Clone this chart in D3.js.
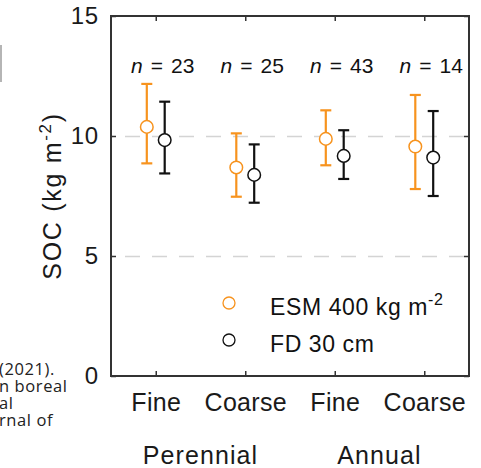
<!DOCTYPE html>
<html>
<head>
<meta charset="utf-8">
<script src="https://cdn.jsdelivr.net/npm/d3@7/dist/d3.min.js"></script>
<style>
  body { margin: 0; background: #fff; }
  svg { display: block; }
  .note { font-family: "Open Sans", sans-serif; font-size: 16.5px; letter-spacing: 0.6px; fill: #222; }
</style>
</head>
<body>
<div id="chart"></div>
<script>
// values
var categories = ['Fine', 'Coarse', 'Fine', 'Coarse'];
var groups = ['Perennial', 'Annual'];
var nCounts = [23, 25, 43, 14];
var esmMean = [10.38, 8.69, 9.88, 9.56];
var esmLow  = [8.86, 7.47, 8.78, 7.79];
var esmHigh = [12.17, 10.11, 11.07, 11.71];
var fdMean = [9.83, 8.38, 9.17, 9.10];
var fdLow  = [8.44, 7.22, 8.21, 7.50];
var fdHigh = [11.43, 9.65, 10.24, 11.04];
var yTicks = [0, 5, 10, 15];
var gridTicks = [5, 10];

var W = 481, H = 468;
var pLeft = 111, pRight = 469, pTop = 16, pBottom = 376;
var orange = '#f7931e', dark = '#111';
var font = '"Liberation Sans", Arial, sans-serif';

var svg = d3.select('#chart').append('svg')
  .attr('width', W).attr('height', H);

var x = d3.scaleLinear().domain([0.5, 4.5]).range([pLeft, pRight]);
var y = d3.scaleLinear().domain([0, 15]).range([pBottom, pTop]);

// clipped caption fragments at the left edge
var notes = [['(2021).', 375], ['n boreal', 392], ['al', 409], ['rnal of', 426]];
svg.selectAll('text.note').data(notes).enter().append('text')
  .attr('class', 'note')
  .attr('x', -1).attr('y', function(d) { return d[1]; })
  .text(function(d) { return d[0]; });
svg.append('rect').attr('x', 0).attr('y', 45).attr('width', 2).attr('height', 37)
  .attr('fill', '#b5b5b5');

// grid
svg.append('g')
  .attr('transform', 'translate(' + pLeft + ',0)')
  .call(d3.axisLeft(y).tickValues(gridTicks).tickSize(-(pRight - pLeft)).tickFormat(''))
  .call(function(g) {
    g.select('.domain').remove();
    g.selectAll('line').attr('stroke', '#d4d4d4').attr('stroke-width', 1.5)
      .attr('stroke-dasharray', '15,12').attr('stroke-dashoffset', 13);
  });

// axes with inward ticks on every side
function styleAxis(g) {
  g.select('.domain').remove();
  g.selectAll('line').attr('stroke', '#333').attr('stroke-width', 1.5);
  g.selectAll('text').attr('font-family', font).attr('fill', '#1a1a1a');
}
var xTicks = d3.range(1, categories.length + 1);

svg.append('g')
  .attr('transform', 'translate(' + pLeft + ',0)')
  .call(d3.axisLeft(y).tickValues(yTicks).tickSize(-5).tickPadding(12))
  .call(styleAxis)
  .call(function(g) { g.selectAll('text').attr('font-size', 24).attr('letter-spacing', 0.8); });

svg.append('g')
  .attr('transform', 'translate(' + pRight + ',0)')
  .call(d3.axisRight(y).tickValues(yTicks).tickSize(-5).tickFormat(''))
  .call(styleAxis);

svg.append('g')
  .attr('transform', 'translate(0,' + pBottom + ')')
  .call(d3.axisBottom(x).tickValues(xTicks).tickSize(-5).tickPadding(17)
    .tickFormat(function(d) { return categories[d - 1]; }))
  .call(styleAxis)
  .call(function(g) { g.selectAll('text').attr('font-size', 25).attr('letter-spacing', 0.3); });

svg.append('g')
  .attr('transform', 'translate(0,' + pTop + ')')
  .call(d3.axisTop(x).tickValues(xTicks).tickSize(-5).tickFormat(''))
  .call(styleAxis);

svg.append('rect')
  .attr('x', pLeft).attr('y', pTop)
  .attr('width', pRight - pLeft).attr('height', pBottom - pTop)
  .attr('fill', 'none').attr('stroke', '#333').attr('stroke-width', 2);

// group labels
svg.selectAll('text.group').data(groups).enter().append('text')
  .attr('class', 'group')
  .attr('x', function(d, i) { return x(i * 2 + 1.5); })
  .attr('y', 464)
  .attr('text-anchor', 'middle')
  .attr('font-family', font).attr('font-size', 25).attr('letter-spacing', 1.1)
  .attr('fill', '#1a1a1a')
  .text(function(d) { return d; });

// y label
var yl = svg.append('text')
  .attr('transform', 'translate(61,' + ((pTop + pBottom) / 2) + ') rotate(-90)')
  .attr('text-anchor', 'middle')
  .attr('font-family', font).attr('font-size', 25).attr('letter-spacing', 1.7)
  .attr('fill', '#1a1a1a');
yl.append('tspan').text('SOC (kg m');
yl.append('tspan').attr('font-size', 17).attr('dy', -10).text('-2');
yl.append('tspan').attr('dy', 10).text(')');

// n labels
var nl = svg.selectAll('text.n').data(nCounts).enter().append('text')
  .attr('class', 'n')
  .attr('x', function(d, i) { return x(i + 1) + 7; })
  .attr('y', 73)
  .attr('text-anchor', 'middle')
  .attr('font-family', font).attr('font-size', 21).attr('fill', '#111');
nl.append('tspan').attr('font-style', 'italic').text('n');
nl.append('tspan').attr('dx', 8).text('=');
nl.append('tspan').attr('dx', 8).text(function(d) { return d; });

// error bars
var series = [
  { mean: esmMean, low: esmLow, high: esmHigh, color: orange, off: -0.1 },
  { mean: fdMean, low: fdLow, high: fdHigh, color: dark, off: 0.1 }
];
var capW = 5.5;
series.forEach(function(s) {
  var g = svg.append('g');
  var idx = d3.range(s.mean.length);
  g.selectAll('line.bar').data(idx).enter().append('line')
    .attr('x1', function(i) { return x(i + 1 + s.off); })
    .attr('x2', function(i) { return x(i + 1 + s.off); })
    .attr('y1', function(i) { return y(s.low[i]); })
    .attr('y2', function(i) { return y(s.high[i]); })
    .attr('stroke', s.color).attr('stroke-width', 2.2);
  ['low', 'high'].forEach(function(k) {
    g.selectAll('line.' + k).data(idx).enter().append('line')
      .attr('x1', function(i) { return x(i + 1 + s.off) - capW; })
      .attr('x2', function(i) { return x(i + 1 + s.off) + capW; })
      .attr('y1', function(i) { return y(s[k][i]); })
      .attr('y2', function(i) { return y(s[k][i]); })
      .attr('stroke', s.color).attr('stroke-width', 2.2);
  });
  g.selectAll('circle').data(idx).enter().append('circle')
    .attr('cx', function(i) { return x(i + 1 + s.off); })
    .attr('cy', function(i) { return y(s.mean[i]); })
    .attr('r', 6.3)
    .attr('fill', '#fff').attr('stroke', s.color).attr('stroke-width', 1.5);
});

// legend
var legend = [
  { label: 'ESM 400 kg m', sup: '-2', color: orange, y: 303 },
  { label: 'FD 30 cm', sup: '', color: dark, y: 340 }
];
legend.forEach(function(d) {
  svg.append('circle').attr('cx', 229).attr('cy', d.y).attr('r', 6)
    .attr('fill', 'none').attr('stroke', d.color).attr('stroke-width', 1.3);
  var t = svg.append('text')
    .attr('x', 270).attr('y', d.y + 12)
    .attr('font-family', font).attr('font-size', 23).attr('letter-spacing', 0.6)
    .attr('fill', '#111');
  t.append('tspan').text(d.label);
  if (d.sup) t.append('tspan').attr('font-size', 16).attr('dy', -10).text(d.sup);
});
</script>
</body>
</html>
